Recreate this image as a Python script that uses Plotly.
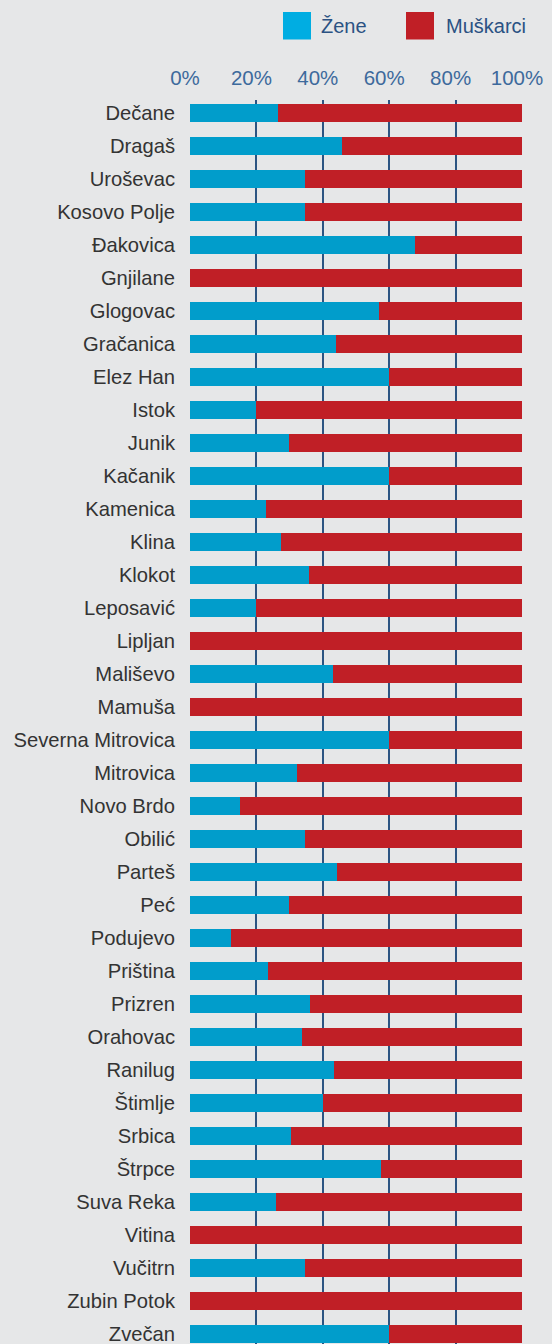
import plotly.graph_objects as go

municipalities = ["Dečane", "Dragaš", "Uroševac", "Kosovo Polje", "Đakovica", "Gnjilane",
                  "Glogovac", "Gračanica", "Elez Han", "Istok", "Junik", "Kačanik",
                  "Kamenica", "Klina", "Klokot", "Leposavić", "Lipljan", "Mališevo",
                  "Mamuša", "Severna Mitrovica", "Mitrovica", "Novo Brdo", "Obilić",
                  "Parteš", "Peć", "Podujevo", "Priština", "Prizren", "Orahovac",
                  "Ranilug", "Štimlje", "Srbica", "Štrpce", "Suva Reka", "Vitina",
                  "Vučitrn", "Zubin Potok", "Zvečan"]

zene = [26.4, 45.9, 34.5, 34.5, 67.9, 0, 56.8, 44.0, 60, 20, 29.7, 60,
        23.0, 27.3, 35.7, 20, 0, 43.2, 0, 60, 32.1, 15.2, 34.5,
        44.4, 29.7, 12.2, 23.6, 36.0, 33.6, 43.5, 40.2, 30.3, 57.4, 25.8, 0,
        34.5, 0, 60]

muskarci = [73.6, 54.1, 65.5, 65.5, 32.1, 100, 43.2, 56.0, 40, 80, 70.3, 40,
            77.0, 72.7, 64.3, 80, 100, 56.8, 100, 40, 67.9, 84.8, 65.5,
            55.6, 70.3, 87.8, 76.4, 64.0, 66.4, 56.5, 59.8, 69.7, 42.6, 74.2, 100,
            65.5, 100, 40]

tick_vals = [0, 20, 40, 60, 80, 100]
tick_text = ["0%", "20%", "40%", "60%", "80%", "100%"]

BLUE = "#019dcb"
RED = "#c01f26"
LEG_BLUE = "#00ade2"
BG = "#e6e7e8"
GRID = "#2c5482"
TICK = "#3d6a9c"
FONT = "Liberation Sans"

W, H = 552, 1344
L, R, T, B = 190, 30, 100, 0

fig = go.Figure()
fig.add_trace(go.Bar(y=municipalities, x=zene, orientation="h", name="Žene",
                     marker=dict(color=BLUE, line=dict(width=0)), width=0.545,
                     showlegend=False))
fig.add_trace(go.Bar(y=municipalities, x=muskarci, orientation="h", name="Muškarci",
                     marker=dict(color=RED, line=dict(width=0)), width=0.545,
                     showlegend=False))

n = len(municipalities)
fig.update_layout(
    width=W, height=H,
    margin=dict(l=L, r=R, t=T, b=B, pad=0),
    barmode="stack",
    paper_bgcolor=BG, plot_bgcolor=BG,
    font=dict(family=FONT, size=20, color="#333333"),
    xaxis=dict(side="top", range=[0, 100], tickvals=tick_vals, ticktext=tick_text,
               showgrid=True, gridcolor=GRID, gridwidth=1.5, zeroline=False,
               showline=False, ticks="", ticklabelstandoff=10, ticklabelshift=-5,
               tickfont=dict(family=FONT, size=20.5, color=TICK), fixedrange=True),
    yaxis=dict(type="category", categoryorder="array", categoryarray=municipalities,
               range=[n - 1 + 0.30, -0.394], showgrid=False, zeroline=False,
               showline=False, ticks="", ticklabelstandoff=14,
               tickfont=dict(family=FONT, size=20.2, color="#333333"), fixedrange=True),
)

# custom legend (pixel positions converted to paper coordinates)
def px_x(p):
    return (p - L) / (W - L - R)

def px_y(p):
    return (H - B - p) / (H - T - B)

legend_items = [("Žene", LEG_BLUE, 283, 319), ("Muškarci", RED, 406, 444)]
for label, color, sx, tx in legend_items:
    fig.add_shape(type="rect", xref="paper", yref="paper",
                  x0=px_x(sx), x1=px_x(sx + 28), y0=px_y(39.5), y1=px_y(12),
                  fillcolor=color, line=dict(width=0))
    fig.add_annotation(xref="paper", yref="paper", x=px_x(tx), y=px_y(26),
                       xanchor="left", yanchor="middle", showarrow=False,
                       text=label, font=dict(family=FONT, size=20, color="#2b5283"))

fig.write_html("out.html",
               config={"displayModeBar": False},
               post_script="document.body.style.margin='0';"
                           "document.body.style.background='#e6e7e8';"
                           "document.body.style.overflow='hidden';")
